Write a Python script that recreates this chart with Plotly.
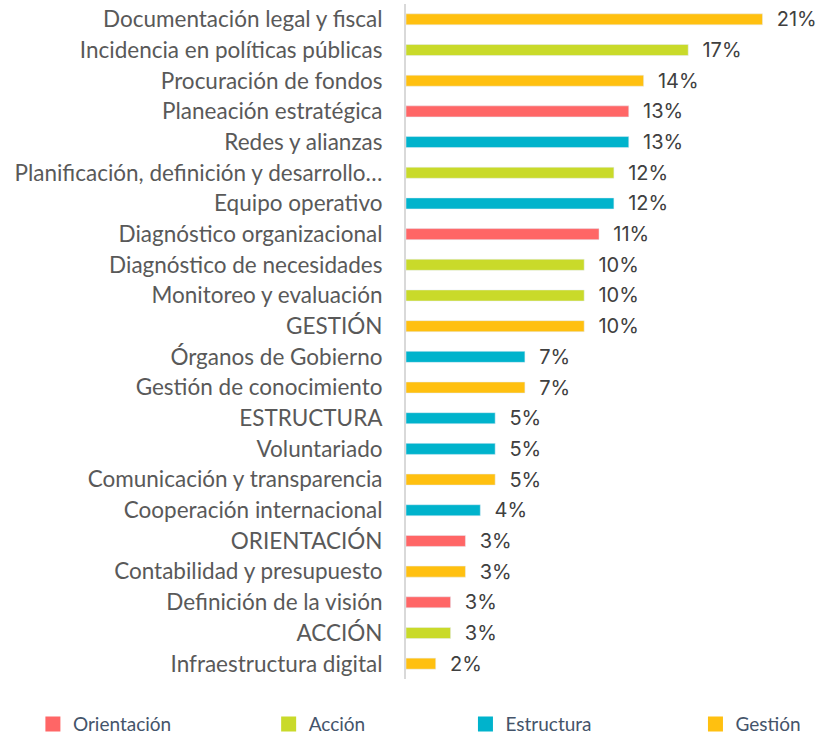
from plotly import graph_objects as go

# categories, top to bottom as drawn
categories = [
    "Documentación legal y fiscal", "Incidencia en políticas públicas", "Procuración de fondos",
    "Planeación estratégica", "Redes y alianzas", "Planificación, definición y desarrollo…",
    "Equipo operativo", "Diagnóstico organizacional", "Diagnóstico de necesidades",
    "Monitoreo y evaluación", "GESTIÓN", "Órganos de Gobierno", "Gestión de conocimiento",
    "ESTRUCTURA", "Voluntariado", "Comunicación y transparencia", "Cooperación internacional",
    "ORIENTACIÓN", "Contabilidad y presupuesto", "Definición de la visión", "ACCIÓN",
    "Infraestructura digital",
]
# percentages
values = [20.87, 16.52, 13.91, 13.04, 13.04, 12.17, 12.17, 11.30, 10.43, 10.43, 10.43,
          6.96, 6.96, 5.22, 5.22, 5.22, 4.35, 3.48, 3.48, 2.61, 2.61, 1.74]
groups = ["Gestión", "Acción", "Gestión", "Orientación", "Estructura", "Acción",
          "Estructura", "Orientación", "Acción", "Acción", "Gestión", "Estructura", "Gestión",
          "Estructura", "Estructura", "Gestión", "Estructura", "Orientación", "Gestión",
          "Orientación", "Acción", "Gestión"]

group_names = ["Orientación", "Acción", "Estructura", "Gestión"]
group_colors = {"Orientación": "#FF6666", "Acción": "#C9DA2A", "Estructura": "#00B3CC", "Gestión": "#FFC010"}
legend_x = {"Orientación": -0.91, "Acción": -0.335, "Estructura": 0.145, "Gestión": 0.706}

fig = go.Figure()
for i, g in enumerate(group_names):
    ys = [c for c, gg in zip(categories, groups) if gg == g]
    xs = [v for v, gg in zip(values, groups) if gg == g]
    lg = "legend" if i == 0 else f"legend{i+1}"
    #bars for the group
    fig.add_trace(go.Bar(
        x=xs, y=ys, orientation="h", name=g, marker_color=group_colors[g], width=0.36,
        texttemplate="  %{x:.0f}%", textposition="outside", cliponaxis=False,
        constraintext="none", showlegend=False, hoverinfo="skip",
        textfont=dict(family="Inter", size=20, color="#404040"),
    ))
    #legend-only marker so the swatch can be a bigger square
    fig.add_trace(go.Scatter(
        x=[None], y=[None], mode="markers", name=g, showlegend=True, legend=lg,
        marker=dict(symbol="square", size=15, color=group_colors[g]),
    ))

fig.update_layout(
    width=833, height=734, barmode="relative", showlegend=True,
    margin=dict(l=406, r=17, t=4, b=55, autoexpand=False),
    plot_bgcolor="white", paper_bgcolor="white",
    font=dict(family="Lato", size=20, color="#595959"),
    xaxis=dict(range=[0, 24], visible=False, fixedrange=True),
    yaxis=dict(categoryorder="array", categoryarray=categories[::-1], showline=True,
               linecolor="#D9D9D9", linewidth=2, ticks="", ticklabelstandoff=17,
               tickfont=dict(family="Lato", size=22.5, color="#595959"), showgrid=False,
               fixedrange=True),
)
for i, g in enumerate(group_names):
    key = "legend" if i == 0 else f"legend{i+1}"
    fig.update_layout({key: dict(x=legend_x[g], y=-0.067, xanchor="left", yanchor="middle",
                                 orientation="h", bgcolor="rgba(0,0,0,0)",
                                 font=dict(family="Lato", size=19, color="#44546A"),
                                 itemwidth=30)})

# drop the default page margin so the figure sits at the top-left corner
fig.write_html("out.html", config={"displayModeBar": False},
               post_script="document.body.style.margin='0';")
